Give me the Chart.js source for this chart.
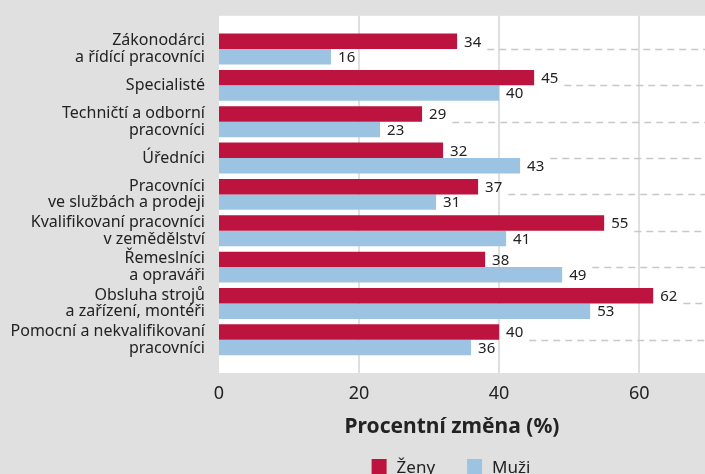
<!doctype html>
<html>
<head>
<meta charset="utf-8">
<title>Procentní změna</title>
<script src="https://cdn.jsdelivr.net/npm/chart.js@4.4.9/dist/chart.umd.min.js"></script>
<script>
const categories = [
  ['Zákonodárci', 'a řídící pracovníci'],
  ['Specialisté'],
  ['Techničtí a odborní', 'pracovníci'],
  ['Úředníci'],
  ['Pracovníci', 've službách a prodeji'],
  ['Kvalifikovaní pracovníci', 'v zemědělství'],
  ['Řemeslníci', 'a opraváři'],
  ['Obsluha strojů', 'a zařízení, montéři'],
  ['Pomocní a nekvalifikovaní', 'pracovníci'],
];
const zeny = [34, 45, 29, 32, 37, 55, 38, 62, 40];
const muzi = [16, 40, 23, 43, 31, 41, 49, 53, 36];
const seriesNames = ['Ženy', 'Muži'];
const xTicks = [0, 20, 40, 60];
const xMax = 69.4;
const axisTitle = 'Procentní změna (%)';

const FONT = 'Noto Sans';
const RED = '#bc143e';
const BLUE = '#9cc4e2';
const GRID = '#d4d4d4';
const TEXT = '#222222';

// background, extended plot box, labels, dashes, title and legend
const extras = {
  id: 'extras',
  beforeDraw(chart) {
    const { ctx, chartArea: a, scales: { x } } = chart;
    ctx.save();
    ctx.fillStyle = '#e0e0e0';
    ctx.fillRect(0, 0, chart.width, chart.height);
    ctx.fillStyle = '#ffffff';
    ctx.fillRect(a.left, a.top - 15, a.right - a.left, a.bottom - a.top + 30);
    ctx.strokeStyle = GRID;
    ctx.lineWidth = 1.5;
    xTicks.slice(1).forEach(v => {
      const px = Math.round(x.getPixelForValue(v));
      ctx.beginPath();
      ctx.moveTo(px, a.top - 15);
      ctx.lineTo(px, a.bottom + 15);
      ctx.stroke();
    });
    ctx.restore();
  },
  afterDatasetsDraw(chart) {
    const { ctx, chartArea: a, scales: { y } } = chart;
    ctx.save();
    ctx.font = '15px "' + FONT + '"';
    ctx.fillStyle = TEXT;
    ctx.textBaseline = 'middle';
    const ends = categories.map(() => 0);
    chart.data.datasets.forEach((ds, di) => {
      chart.getDatasetMeta(di).data.forEach((bar, i) => {
        const txt = String(ds.data[i]);
        const tx = bar.x + 7;
        ctx.fillText(txt, tx, bar.y + 1);
        ends[i] = Math.max(ends[i], tx + ctx.measureText(txt).width);
      });
    });
    ctx.strokeStyle = '#c8c8c8';
    ctx.lineWidth = 1.5;
    ctx.setLineDash([7, 5]);
    ends.forEach((e, i) => {
      const py = Math.round(y.getPixelForValue(i)) + 0.5;
      ctx.beginPath();
      ctx.moveTo(e + 6, py);
      ctx.lineTo(a.right, py);
      ctx.stroke();
    });
    ctx.restore();
  },
  afterDraw(chart) {
    const { ctx } = chart;
    ctx.save();
    ctx.fillStyle = TEXT;
    ctx.textBaseline = 'middle';
    ctx.textAlign = 'center';
    ctx.font = 'bold 21px "' + FONT + '"';
    ctx.fillText(axisTitle, 452, 427);

    ctx.textAlign = 'left';
    ctx.font = '17px "' + FONT + '"';
    const items = chart.data.datasets.map(ds => ({ label: ds.label, color: ds.backgroundColor,
      w: 15 + 10 + ctx.measureText(ds.label).width }));
    const gap = 32;
    const total = items.reduce((s, it) => s + it.w, 0) + gap * (items.length - 1);
    let lx = 451 - total / 2;
    items.forEach(it => {
      ctx.fillStyle = it.color;
      ctx.fillRect(lx, 459, 15, 15);
      ctx.fillStyle = TEXT;
      ctx.fillText(it.label, lx + 25, 468);
      lx += it.w + gap;
    });
    ctx.restore();
  }
};

function go() {
  const canvas = document.getElementById('chart');
  new Chart(canvas, {
    type: 'bar',
    data: {
      labels: categories,
      datasets: [
        { label: seriesNames[0], data: zeny, backgroundColor: RED },
        { label: seriesNames[1], data: muzi, backgroundColor: BLUE },
      ],
    },
    options: {
      indexAxis: 'y',
      responsive: false,
      animation: false,
      devicePixelRatio: 1,
      categoryPercentage: 0.85,
      barPercentage: 1,
      layout: { padding: { top: 28, right: 0, bottom: 0, left: 0 } },
      scales: {
        x: {
          min: 0,
          max: xMax,
          grid: { display: false, drawTicks: false },
          border: { display: false },
          afterBuildTicks: s => { s.ticks = xTicks.map(v => ({ value: v })); },
          ticks: { font: { family: FONT, size: 18 }, color: TEXT, padding: 25 },
          afterFit: s => { s.height = 116; },
        },
        y: {
          grid: { display: false, drawTicks: false },
          border: { display: false },
          ticks: { autoSkip: false, font: { family: FONT, size: 16, lineHeight: 1.05 }, color: TEXT, padding: 14 },
          afterFit: s => { s.width = 219; },
        },
      },
      plugins: {
        legend: { display: false },
        tooltip: { enabled: false },
      },
    },
    plugins: [extras],
  });
}

window.onload = go;
</script>
<style>
body { margin: 0; background: #e0e0e0; }
canvas { display: block; }
</style>
</head>
<body>
<canvas id="chart" width="705" height="474"></canvas>
</body>
</html>
